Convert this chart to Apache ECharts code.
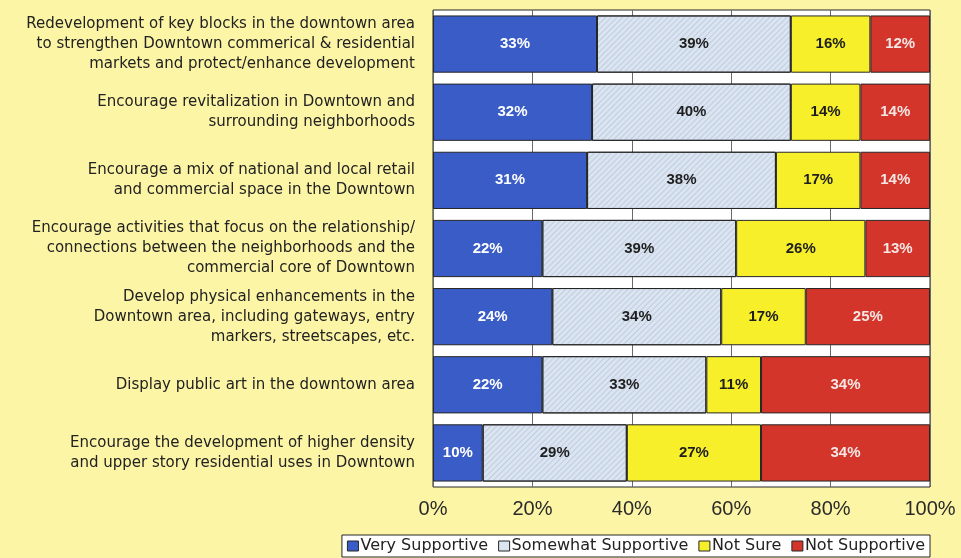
<!DOCTYPE html>
<html>
<head>
<meta charset="utf-8">
<title>Downtown strategies – level of support</title>
<script src="https://cdn.jsdelivr.net/npm/echarts@6/dist/echarts.min.js"></script>
<style>
  html, body { margin: 0; padding: 0; background: #fcf5a6; }
  #chart { width: 961px; height: 558px; }
</style>
</head>
<body>
<div id="chart"></div>
<script>
// Survey statements (top to bottom)
const categories = [
  'Redevelopment of key blocks in the downtown area\nto strengthen Downtown commerical & residential\nmarkets and protect/enhance development',
  'Encourage revitalization in Downtown and\nsurrounding neighborhoods',
  'Encourage a mix of national and local retail\nand commercial space in the Downtown',
  'Encourage activities that focus on the relationship/\nconnections between the neighborhoods and the\ncommercial core of Downtown',
  'Develop physical enhancements in the\nDowntown area, including gateways, entry\nmarkers, streetscapes, etc.',
  'Display public art in the downtown area',
  'Encourage the development of higher density\nand upper story residential uses in Downtown'
];

// Share of responses (%) per statement
const verySupportive     = [33, 32, 31, 22, 24, 22, 10];
const somewhatSupportive = [39, 40, 38, 39, 34, 33, 29];
const notSure            = [16, 14, 17, 26, 17, 11, 27];
const notSupportive      = [12, 14, 14, 13, 25, 34, 34];

const seriesNames = ['Very Supportive', 'Somewhat Supportive', 'Not Sure', 'Not Supportive'];
const xTicks = [0, 20, 40, 60, 80, 100];

const FONT = '"Liberation Sans", Arial, sans-serif';
const WIDE_FONT = '"DejaVu Sans", Verdana, sans-serif';

function barSeries(name, data, fill, labelColor, decal) {
  return {
    name: name,
    type: 'bar',
    stack: 'total',
    data: data,
    barCategoryGap: '16%',
    itemStyle: { color: fill, borderColor: '#262626', borderWidth: 1, decal: decal },
    label: {
      show: true,
      position: 'inside',
      formatter: '{c}%',
      color: labelColor,
      fontFamily: FONT,
      fontWeight: 'bold',
      fontSize: 15
    },
    emphasis: { disabled: true }
  };
}

const chart = echarts.init(document.getElementById('chart'), null, { renderer: 'canvas' });

chart.setOption({
  backgroundColor: '#fcf5a6',
  animation: false,
  color: ['#3a5cc6', '#dbe4f1', '#f6ef2a', '#d4352a'],
  grid: {
    left: 433, right: 31, top: 10, bottom: 71,
    show: true,
    backgroundColor: '#ffffff',
    borderColor: '#262626',
    borderWidth: 1
  },
  legend: {
    data: seriesNames,
    right: 31,
    bottom: 1,
    padding: [3, 5],
    itemGap: 10,
    itemWidth: 11,
    itemHeight: 10,
    icon: 'rect',
    backgroundColor: '#ffffff',
    borderColor: '#262626',
    borderWidth: 1,
    itemStyle: { borderColor: '#262626', borderWidth: 1, decal: 'none' },
    textStyle: { fontFamily: WIDE_FONT, fontSize: 16, color: '#222', padding: [0, 0, 0, -3] }
  },
  xAxis: {
    type: 'value',
    min: xTicks[0],
    max: xTicks[xTicks.length - 1],
    interval: xTicks[1] - xTicks[0],
    axisLine: { show: false },
    axisTick: { show: false },
    axisLabel: {
      formatter: '{value}%',
      margin: 12,
      fontFamily: FONT,
      fontSize: 20,
      color: '#2a2a2a'
    },
    splitLine: { show: true, lineStyle: { color: '#6a6a6a', width: 1 } }
  },
  yAxis: {
    type: 'category',
    data: categories,
    inverse: true,
    axisLine: { show: false },
    axisTick: { show: false },
    axisLabel: {
      margin: 18,
      fontFamily: WIDE_FONT,
      fontSize: 15,
      lineHeight: 20,
      color: '#222',
      align: 'right'
    }
  },
  series: [
    barSeries(seriesNames[0], verySupportive, '#3a5cc6', '#ffffff'),
    barSeries(seriesNames[1], somewhatSupportive, '#dbe4f1', '#1e1e1e', {
      symbol: 'rect',
      symbolSize: 1,
      dashArrayX: [1, 0],
      dashArrayY: [1, 3],
      rotation: -Math.PI / 4,
      color: 'rgba(140, 160, 190, 0.35)'
    }),
    barSeries(seriesNames[2], notSure, '#f6ef2a', '#1e1e1e'),
    barSeries(seriesNames[3], notSupportive, '#d4352a', '#f4e6e4')
  ]
});
</script>
</body>
</html>
